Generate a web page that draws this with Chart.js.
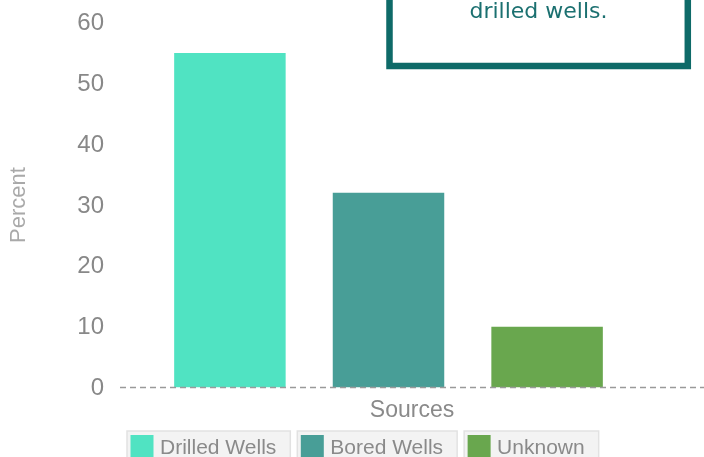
<!DOCTYPE html>
<html>
<head>
<meta charset="utf-8">
<script src="https://cdn.jsdelivr.net/npm/chart.js@4"></script>
<style>
  html, body { margin: 0; padding: 0; background: #ffffff; overflow: hidden; }
  #wrap { width: 704px; height: 457px; }
</style>
</head>
<body>
<div id="wrap"><canvas id="c" width="704" height="457"></canvas></div>
<script>
// ---- data ----
const categories = ['Drilled Wells', 'Bored Wells', 'Unknown'];
const values = [55, 32, 10];
const colors = ['#50e3c2', '#489e97', '#69a74e'];
const yTicks = [0, 10, 20, 30, 40, 50, 60];
const xTitle = 'Sources';
const yTitle = 'Percent';
const noteLines = ['drilled wells.'];

const datasets = categories.map((name, i) => ({
  label: name,
  data: [values[i]],
  backgroundColor: colors[i],
  borderWidth: 0,
  categoryPercentage: 0.886,
  barPercentage: 0.703
}));

const decor = {
  id: 'decor',
  afterDatasetsDraw(chart) {
    const ctx = chart.ctx;
    const y0 = chart.scales.y.getPixelForValue(0);
    ctx.save();
    ctx.strokeStyle = '#9a9a9a';
    ctx.lineWidth = 1.5;
    ctx.setLineDash([6, 4]);
    ctx.beginPath();
    ctx.moveTo(chart.chartArea.left, y0);
    ctx.lineTo(chart.width, y0);
    ctx.stroke();
    ctx.restore();
  },
  afterDraw(chart) {
    const ctx = chart.ctx;
    const area = chart.chartArea;
    ctx.save();
    // x title
    ctx.fillStyle = '#8a8a8a';
    ctx.font = '23px "Liberation Sans", Arial, sans-serif';
    ctx.textAlign = 'center';
    ctx.textBaseline = 'alphabetic';
    ctx.fillText(xTitle, 412, 416.5);
    // y title
    ctx.save();
    ctx.translate(24.5, (area.top + area.bottom) / 2);
    ctx.rotate(-Math.PI / 2);
    ctx.fillStyle = '#a9a9a9';
    ctx.font = '22px "Liberation Sans", Arial, sans-serif';
    ctx.fillText(yTitle, 0, 0);
    ctx.restore();

    // note box
    ctx.strokeStyle = '#0e6a68';
    ctx.lineWidth = 6.5;
    ctx.fillStyle = '#ffffff';
    ctx.beginPath();
    ctx.rect(389.5, -30, 298.3, 96);
    ctx.fill();
    ctx.stroke();
    ctx.fillStyle = '#1b7070';
    ctx.font = '22px "DejaVu Sans", sans-serif';
    ctx.textAlign = 'center';
    ctx.fillText(noteLines[0], 538.5, 17.5);

    // legend
    ctx.font = '21px "Liberation Sans", Arial, sans-serif';
    ctx.textAlign = 'left';
    let x = 127;
    chart.data.datasets.forEach(ds => {
      const tw = ctx.measureText(ds.label).width;
      const w = 4 + 23 + 6 + tw + 14;
      ctx.fillStyle = '#f3f3f3';
      ctx.strokeStyle = '#e2e2e2';
      ctx.lineWidth = 1.5;
      ctx.beginPath();
      ctx.rect(x, 431, w, 40);
      ctx.fill();
      ctx.stroke();
      ctx.fillStyle = ds.backgroundColor;
      ctx.fillRect(x + 3.5, 435, 23, 23);
      ctx.fillStyle = '#8a8a8a';
      ctx.fillText(ds.label, x + 33, 453.5);
      x += w + 7;
    });
    ctx.restore();
  }
};

new Chart(document.getElementById('c'), {
  type: 'bar',
  data: { labels: [xTitle], datasets },
  options: {
    responsive: false,
    animation: false,
    layout: { padding: { top: 22.5, right: 47, bottom: 69.5, left: 0 } },
    plugins: { legend: { display: false }, tooltip: { enabled: false } },
    scales: {
      x: { display: false },
      y: {
        min: 0, max: 60,
        afterFit(s) { s.width = 120; s.paddingTop = 0; s.paddingBottom = 0; },
        afterBuildTicks(s) { s.ticks = yTicks.map(v => ({ value: v })); },
        grid: { display: false, drawTicks: false },
        border: { display: false },
        ticks: {
          padding: 16,
          labelOffset: 1,
          color: '#888888',
          font: { family: '"Liberation Sans", Arial, sans-serif', size: 24 }
        }
      }
    }
  },
  plugins: [decor]
});
</script>
</body>
</html>
